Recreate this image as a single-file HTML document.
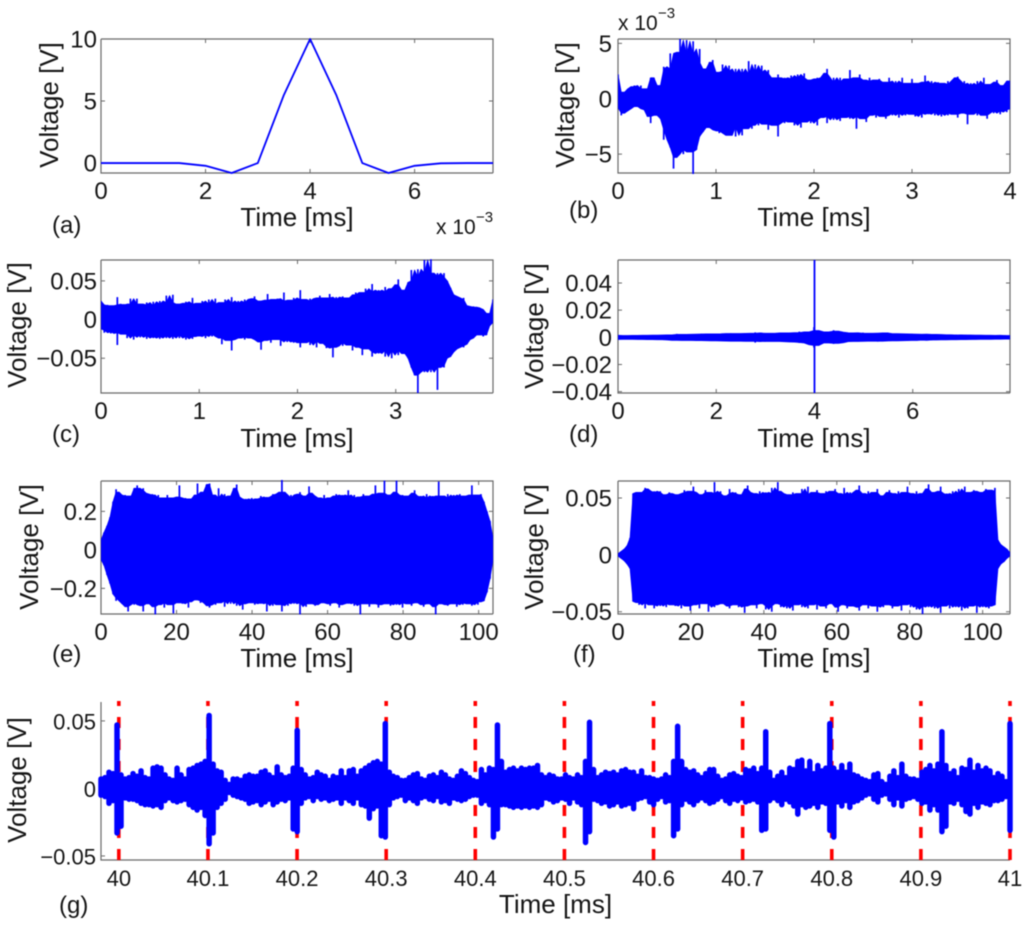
<!DOCTYPE html>
<html lang="en">
<head>
<meta charset="utf-8">
<title>Voltage signal panels</title>
<style>
html,body{margin:0;padding:0;background:#fff;}
#figure{display:block;width:1024px;height:931px;filter:blur(0.45px);font-family:"Liberation Sans",sans-serif;}
text{fill:#151515;}
</style>
</head>
<body>
<svg id="figure" xmlns="http://www.w3.org/2000/svg" width="1024" height="931" viewBox="0 0 1024 931"></svg>
<script>
// Panel (a): pulse, volts
const aTime = [0,0.5,1,1.5,2,2.5,3,3.5,4,4.5,5,5.5,6,6.5,7,7.5];
const aVolts = [0,0,0,0,-0.22,-0.8,0,5.5,10,5.5,0,-0.8,-0.22,-0.02,0,0];

// Panel (b): envelope in millivolts
const bUpper = [2.2,.6,.4,.9,1.1,1.2,.9,1.2,.9,.7,
1.9,1.9,1.2,1.1,2.9,2.7,4.1,2.6,4.2,5.4,
4.0,5.3,4.0,5.2,3.3,4.5,2.7,2.2,3.3,3.5,
2.4,2.2,3.1,2.5,3.0,2.0,2.7,2.2,2.7,2.0,
3.4,2.2,3.1,2.4,3.0,2.3,2.6,1.8,1.9,2.2,
1.6,1.9,1.8,2.1,1.6,2.2,1.9,2.3,1.7,1.6,
1.8,1.9,1.6,2.3,2.7,1.3,1.9,1.5,1.9,1.4,
1.8,2.6,1.5,1.9,2.2,1.7,1.6,1.9,1.4,1.7,
1.8,1.3,1.5,1.9,1.3,1.6,1.2,1.9,1.4,1.3,
1.8,1.4,1.2,1.5,2.1,1.3,1.6,1.2,1.5,1.4,
1.3,1.6,1.2,1.9,2.0,1.3,1.6,1.1,1.4,1.2,
1.6,1.2,1.9,1.3,1.1,1.5,1.7,1.0,1.2,1.6,1.6];
const bLower = [-.8,-1.5,-1.3,-1.1,-.9,-.7,-.6,-.9,-1.0,-1.6,
-2.2,-1.4,-1.5,-1.8,-3.7,-2.8,-4.4,-6.3,-5.3,-4.6,
-5.0,-4.6,-4.8,-6.9,-4.6,-3.4,-3.0,-2.6,-2.4,-2.8,
-2.9,-3.1,-2.4,-3.3,-3.3,-2.2,-3.4,-2.5,-3.3,-2.7,
-2.4,-2.7,-2.1,-2.4,-1.9,-2.3,-2.8,-1.9,-2.4,-3.4,
-2.0,-2.2,-1.7,-2.1,-2.4,-2.0,-2.6,-2.1,-1.8,-2.2,
-1.9,-2.4,-1.7,-1.6,-2.2,-1.6,-1.9,-1.5,-2.0,-1.7,
-1.5,-1.8,-1.6,-2.7,-1.4,-1.8,-2.1,-1.5,-1.4,-1.7,
-1.2,-1.6,-1.8,-1.3,-1.5,-1.2,-1.7,-1.3,-1.5,-1.2,
-1.4,-1.6,-1.2,-1.7,-1.3,-1.4,-1.1,-1.5,-1.2,-1.6,
-1.3,-1.5,-1.2,-1.4,-1.7,-1.3,-1.2,-2.3,-1.4,-1.1,
-1.5,-1.2,-1.5,-1.8,-1.1,-1.3,-1.1,-1.4,-1.0,-1.2,-.9];

// Panel (c): envelope in millivolts
const cUpper = [24,17,19,18,16,29,19,20,18,27,
20,27,20,19,22,17,23,18,24,20,
31,22,32,18,20,21,23,20,28,19,
21,24,19,26,20,27,17,22,26,18,
29,21,24,20,26,22,27,30,24,20,
25,33,21,26,27,24,35,23,25,28,
24,38,26,24,27,23,28,31,25,28,
33,26,29,24,30,28,24,32,35,30,
35,40,31,46,36,38,34,42,36,40,
45,52,36,38,48,64,50,65,55,77,
60,78,56,60,55,60,50,41,32,30,
26,28,18,14,17,16,15,13,8,6,26];
const cLower = [-12,-17,-14,-18,-16,-33,-17,-19,-24,-18,
-26,-20,-23,-19,-25,-21,-24,-22,-25,-20,
-24,-21,-25,-20,-24,-19,-26,-22,-25,-21,
-22,-20,-24,-19,-22,-18,-24,-32,-24,-27,
-40,-26,-24,-22,-26,-23,-24,-26,-29,-39,
-27,-26,-30,-26,-25,-34,-26,-29,-24,-30,
-28,-36,-30,-26,-33,-28,-36,-27,-31,-37,
-35,-49,-36,-30,-34,-28,-33,-40,-31,-36,
-46,-38,-35,-48,-42,-44,-36,-48,-40,-50,
-38,-46,-40,-44,-50,-62,-72,-95,-65,-68,
-60,-68,-62,-91,-60,-62,-50,-48,-42,-38,
-34,-36,-32,-26,-24,-20,-18,-22,-20,-8,-4];

// Panel (d): envelope and central spike in millivolts
const dUpper = [1.5,1.3,1.3,1.4,1.4,1.5,1.6,1.5,1.6,1.7,
1.8,1.8,2.5,2.1,2.0,2.3,2.2,2.6,2.4,2.5,
2.6,2.5,2.8,2.9,2.7,2.8,3.0,2.9,3.6,3.0,
3.2,3.0,2.8,3.3,3.2,3.1,3.4,4.2,3.3,4.0,
7.5,5.0,4.0,3.5,5.2,4.5,3.8,3.2,3.3,3.0,
3.4,3.0,2.8,3.1,3.2,3.5,2.7,2.6,2.8,2.4,
2.5,2.2,2.3,2.1,2.4,2.0,2.1,1.9,1.7,2.0,
1.7,1.8,1.6,1.7,1.5,1.6,1.4,1.5,1.3,1.5,1.3];
const dLower = [-1.6,-1.5,-1.5,-1.5,-1.6,-1.6,-1.7,-1.7,-1.8,-1.8,
-2.0,-2.2,-2.3,-2.1,-2.3,-2.2,-2.4,-2.5,-2.4,-2.6,
-2.6,-2.7,-3.0,-2.8,-2.9,-2.8,-3.0,-3.0,-3.9,-3.0,
-3.2,-3.0,-3.1,-3.0,-3.4,-3.3,-3.5,-4.2,-3.8,-5.5,
-7.5,-6.0,-4.2,-3.8,-4.8,-4.5,-4.0,-3.2,-3.1,-3.0,
-3.1,-2.9,-2.8,-3.2,-2.9,-2.7,-2.6,-2.5,-2.6,-2.3,
-2.4,-2.1,-2.3,-2.0,-2.2,-1.9,-2.0,-1.8,-1.9,-1.7,
-1.8,-1.6,-1.7,-1.5,-1.6,-1.5,-1.4,-1.5,-1.3,-1.4,-1.3];
const dSpikeTime = [4];
const dSpikeTop = [56.9];
const dSpikeBottom = [-41];

// Panel (e): envelope in millivolts
const eUpper = [50,90,125,170,250,315,300,280,285,280,
275,320,335,310,320,295,285,290,260,285,
270,265,285,270,265,275,335,265,270,258,
265,285,345,280,300,340,345,285,270,320,
265,290,275,280,320,340,275,250,265,260,
270,255,265,280,270,275,265,290,285,300,
365,300,270,285,270,290,300,275,280,330,
295,280,270,265,285,250,270,280,290,275,
285,280,310,270,285,260,275,290,280,265,
290,335,280,295,360,285,270,300,360,275,
285,280,270,295,310,275,280,270,290,265,
280,275,355,280,270,290,265,285,275,290,
280,270,285,335,275,285,290,250,200,150,60];
const eLower = [-50,-80,-130,-175,-230,-265,-250,-280,-295,-320,
-265,-285,-275,-290,-320,-270,-280,-295,-335,-285,
-270,-300,-275,-285,-330,-265,-275,-280,-265,-300,
-270,-260,-255,-275,-265,-290,-300,-270,-285,-275,
-265,-295,-260,-280,-255,-290,-270,-310,-280,-265,
-275,-285,-265,-280,-275,-320,-270,-290,-275,-285,
-320,-275,-290,-265,-280,-270,-335,-275,-295,-280,
-270,-290,-285,-275,-265,-280,-290,-275,-270,-300,
-285,-265,-280,-275,-290,-270,-335,-280,-265,-295,
-280,-275,-300,-285,-265,-280,-290,-270,-285,-275,
-300,-265,-280,-290,-275,-270,-285,-295,-280,-270,
-295,-335,-280,-265,-285,-290,-270,-280,-295,-275,
-285,-265,-280,-290,-270,-285,-270,-265,-220,-150,-50];

// Panel (f): envelope in millivolts
const fUpper = [1,3,5,8,15,54,55,55,52,59,
58,54,56,55,56,53,52,55,54,53,
50,54,57,55,56,60,55,52,53,57,
55,53,64,54,56,52,51,58,54,55,
53,51,58,61,55,54,53,56,53,55,
54,59,52,64,56,54,51,53,55,50,
54,58,53,60,52,55,57,53,54,56,
52,56,58,54,51,59,53,55,52,57,
61,54,52,56,53,55,58,52,51,55,
57,54,52,56,53,55,60,54,52,56,
53,54,58,62,52,55,56,60,51,54,
53,56,52,58,54,60,55,53,57,56,
54,55,58,57,56,59,13,9,7,5,2];
const fLower = [-1,-3,-5,-8,-12,-41,-42,-44,-41,-47,
-42,-44,-47,-41,-45,-43,-46,-42,-44,-45,
-43,-47,-42,-45,-49,-44,-43,-47,-41,-43,
-50,-42,-46,-44,-43,-39,-45,-47,-42,-44,
-46,-43,-51,-45,-41,-44,-47,-42,-43,-48,
-45,-50,-43,-41,-46,-44,-47,-42,-49,-44,
-43,-46,-41,-47,-44,-43,-48,-42,-45,-47,
-43,-41,-46,-50,-44,-42,-47,-45,-43,-46,
-49,-42,-44,-47,-41,-45,-50,-43,-46,-44,
-42,-47,-45,-43,-49,-44,-41,-46,-43,-48,
-45,-52,-43,-46,-44,-47,-42,-51,-45,-43,
-47,-41,-46,-44,-49,-43,-47,-45,-42,-51,
-44,-46,-43,-47,-45,-44,-12,-8,-6,-3,-1];

// Panel (g): envelope in millivolts, plus marker times in ms
const gUpper = [7,8,12,11,47,10,7,8,11,9,
13,8,7,15,16,15,10,7,6,15,
10,7,14,15,17,18,20,54,18,13,
12,6,3,7,7,6,9,10,9,9,
12,13,10,8,16,10,8,9,15,43,
14,10,7,8,12,10,9,6,9,8,
13,8,13,14,9,13,15,17,19,20,
18,48,12,9,8,6,6,8,10,11,
7,6,9,10,8,12,10,7,6,9,
13,11,8,6,5,14,10,15,14,47,
20,12,14,15,13,15,14,15,15,17,
10,8,10,9,7,7,10,8,7,10,
8,20,49,14,8,10,12,11,12,10,
13,14,12,12,9,13,8,8,7,6,
7,10,8,20,46,20,14,12,13,10,
8,11,14,14,9,6,7,10,11,9,
8,14,13,15,11,15,42,12,6,9,
12,8,15,14,20,21,13,20,11,17,
13,15,48,15,12,17,12,18,10,9,
7,6,5,10,11,5,3,9,13,8,
18,9,7,7,6,12,14,17,13,18,
42,17,11,13,8,15,14,21,12,17,
13,15,13,8,11,9,5,48];
const gLower = [-5,-6,-11,-9,-33,-28,-7,-8,-8,-9,
-11,-12,-12,-13,-12,-14,-9,-7,-9,-10,
-9,-8,-12,-14,-16,-14,-20,-41,-33,-14,
-11,-8,-3,-5,-6,-7,-8,-11,-10,-9,
-12,-10,-8,-12,-10,-8,-9,-7,-30,-32,
-11,-7,-6,-9,-6,-8,-7,-9,-8,-7,
-11,-7,-9,-11,-7,-12,-13,-22,-15,-13,
-35,-36,-12,-7,-6,-5,-9,-7,-9,-11,
-7,-6,-8,-9,-6,-10,-9,-11,-7,-8,
-9,-8,-6,-5,-5,-11,-9,-12,-36,-30,
-12,-12,-13,-14,-13,-14,-13,-14,-13,-14,
-12,-7,-8,-10,-9,-7,-8,-11,-7,-10,
-12,-40,-32,-8,-9,-11,-10,-13,-12,-10,
-13,-12,-11,-15,-8,-7,-6,-10,-12,-8,
-6,-10,-9,-35,-30,-12,-8,-10,-12,-9,
-7,-9,-11,-10,-8,-6,-9,-11,-8,-9,
-7,-10,-9,-8,-10,-31,-30,-9,-7,-9,
-12,-8,-10,-13,-19,-12,-14,-13,-11,-14,
-10,-11,-31,-36,-10,-13,-9,-14,-10,-9,
-7,-5,-4,-8,-10,-5,-4,-8,-12,-7,
-13,-8,-7,-6,-8,-11,-10,-16,-12,-16,
-32,-28,-10,-11,-8,-12,-17,-19,-11,-14,
-10,-11,-12,-9,-9,-8,-6,-31];
const gMarkers = [40,40.1,40.2,40.3,40.4,40.5,40.6,40.7,40.8,40.9,41];

// Tick values and labels
const aXTicks = [0,2,4,6];
const aXLabels = ['0','2','4','6'];
const aYTicks = [0,5,10];
const aYLabels = ['0','5','10'];
const bXTicks = [0,1,2,3,4];
const bXLabels = ['0','1','2','3','4'];
const bYTicks = [-5,0,5];
const bYLabels = ['\u22125','0','5'];
const cXTicks = [0,1,2,3];
const cXLabels = ['0','1','2','3'];
const cYTicks = [-50,0,50];
const cYLabels = ['\u22120.05','0','0.05'];
const dXTicks = [0,2,4,6];
const dXLabels = ['0','2','4','6'];
const dYTicks = [-40,-20,0,20,40];
const dYLabels = ['\u22120.04','\u22120.02','0','0.02','0.04'];
const eXTicks = [0,20,40,60,80,100];
const eXLabels = ['0','20','40','60','80','100'];
const eYTicks = [-200,0,200];
const eYLabels = ['\u22120.2','0','0.2'];
const fXTicks = [0,20,40,60,80,100];
const fXLabels = ['0','20','40','60','80','100'];
const fYTicks = [-50,0,50];
const fYLabels = ['\u22120.05','0','0.05'];
const gXTicks = [40,40.1,40.2,40.3,40.4,40.5,40.6,40.7,40.8,40.9,41];
const gXLabels = ['40','40.1','40.2','40.3','40.4','40.5','40.6','40.7','40.8','40.9','41'];
const gYTicks = [-50,0,50];
const gYLabels = ['\u22120.05','0','0.05'];

const NS = 'http://www.w3.org/2000/svg';
const root = document.getElementById('figure');
const AXIS = '#6a6a6a';
const BLUE = '#0000ff';

function make(parent, tag, attrs, name) {
  const el = document.createElementNS(NS, tag);
  for (const k in attrs) el.setAttribute(k, attrs[k]);
  
  
  parent.appendChild(el);
  return el;
}
function label(parent, x, y, str, size, anchor, name, rotate) {
  const attrs = {x: x, y: y, 'font-size': size, 'text-anchor': anchor};
  if (rotate) attrs.transform = 'rotate(-90 ' + x + ' ' + y + ')';
  const el = make(parent, 'text', attrs, name);
  el.textContent = str;
  return el;
}
function scale(d0, d1, r0, r1) {
  return function (v) { return r0 + (v - d0) * (r1 - r0) / (d1 - d0); };
}

function drawAxes(p, box) {
  const g = p.group, L = p.left, R = p.right, T = p.top, B = p.bottom;
  const axisAttrs = {stroke: AXIS, 'stroke-width': 1.2, fill: 'none'};
  make(g, 'path', Object.assign({d: 'M' + L + ' ' + T + 'V' + B + 'H' + R}, axisAttrs), 'axis-lines');
  if (box) make(g, 'path', Object.assign({d: 'M' + L + ' ' + T + 'H' + R + 'V' + B}, axisAttrs), 'axis-box-top-right');
  p.xTicks.forEach(function (t, i) {
    const x = p.x(t);
    const d = 'M' + x + ' ' + B + 'v-4' + (box ? 'M' + x + ' ' + T + 'v4' : '');
    make(g, 'path', {d: d, stroke: AXIS, 'stroke-width': 1, fill: 'none'}, 'x-tick');
    label(g, x, p.xTickY, p.xLabels[i], p.tickSize, 'middle', 'x-tick-label');
  });
  p.yTicks.forEach(function (t, i) {
    const y = p.y(t);
    const d = 'M' + L + ' ' + y + 'h4' + (box ? 'M' + R + ' ' + y + 'h-4' : '');
    make(g, 'path', {d: d, stroke: AXIS, 'stroke-width': 1, fill: 'none'}, 'y-tick');
    label(g, p.yTickX, y + 8.5, p.yLabels[i], p.tickSize, 'end', 'y-tick-label');
  });
  label(g, p.xTitleX, p.xTitleY, 'Time [ms]', 26, 'middle', 'x-axis-title');
  label(g, p.yTitleX, p.yTitleY, 'Voltage [V]', 26, 'middle', 'y-axis-title', true);
  label(g, p.tagX, p.tagY, p.tag, 24, 'start', 'panel-letter');
}

function clipFor(p) {
  const id = 'clip-' + p.id;
  const c = make(p.group, 'clipPath', {id: id}, 'plot-clip');
  make(c, 'rect', {x: p.left, y: p.top - 1, width: p.right - p.left, height: p.bottom - p.top + 2}, 'plot-clip-rect');
  return 'url(#' + id + ')';
}

// Solid body follows the median of neighbouring peaks; each sample then
// rises above it as a thin vertical spike.
function drawEnvelope(p, upper, lower) {
  const n = upper.length;
  const timeAt = function (i) { return p.xMin + i * (p.xMax - p.xMin) / (n - 1); };
  const middle = function (arr, i) {
    const trio = [arr[Math.max(i - 1, 0)], arr[i], arr[Math.min(i + 1, n - 1)]];
    trio.sort(function (a, b) { return a - b; });
    return trio[1];
  };
  const pts = [];
  let spikes = '';
  for (let i = 0; i < n; i++) {
    const x = p.x(timeAt(i)).toFixed(2);
    pts.push(x + ',' + p.y(middle(upper, i)).toFixed(2));
    spikes += 'M' + x + ' ' + p.y(upper[i]).toFixed(2) + 'V' + p.y(lower[i]).toFixed(2);
  }
  for (let i = n - 1; i >= 0; i--) {
    pts.push(p.x(timeAt(i)).toFixed(2) + ',' + p.y(middle(lower, i)).toFixed(2));
  }
  const clip = clipFor(p);
  make(p.group, 'polygon', {points: pts.join(' '), fill: BLUE, stroke: BLUE, 'stroke-width': 0.8,
    'stroke-linejoin': 'round', 'clip-path': clip}, 'signal-body');
  make(p.group, 'path', {d: spikes, fill: 'none', stroke: BLUE, 'stroke-width': 1.7, 'clip-path': clip}, 'signal-spikes');
}

function panel(cfg) {
  cfg.group = make(root, 'g', {}, 'panel-' + cfg.id);
  cfg.x = scale(cfg.xMin, cfg.xMax, cfg.left, cfg.right);
  cfg.y = scale(cfg.yMin, cfg.yMax, cfg.bottom, cfg.top);
  return cfg;
}

const topRow = {top: 39, bottom: 173, xTickY: 199, xTitleY: 226};
const midRow = {top: 260, bottom: 393, xTickY: 419, xTitleY: 447};
const lowRow = {top: 481, bottom: 614, xTickY: 640, xTitleY: 667};
const leftCol = {left: 101, right: 493, yTickX: 97, xTitleX: 297, tagX: 52};
const rightCol = {left: 618, right: 1010, yTickX: 612, xTitleX: 814, tagX: 569};

// (a)
const pa = panel(Object.assign({id: 'a', tag: '(a)', tagY: 233, tickSize: 24,
  xMin: 0, xMax: 7.5, yMin: -0.8, yMax: 10, xTicks: aXTicks, xLabels: aXLabels, yTicks: aYTicks, yLabels: aYLabels,
  yTitleX: 58, yTitleY: 105}, topRow, leftCol));
drawAxes(pa, true);
make(pa.group, 'polyline', {
  points: aTime.map(function (t, i) { return pa.x(t).toFixed(2) + ',' + pa.y(aVolts[i]).toFixed(2); }).join(' '),
  fill: 'none', stroke: BLUE, 'stroke-width': 1.8, 'stroke-linejoin': 'round'
}, 'pulse-trace');
label(pa.group, 436, 234, 'x 10', 21, 'start', 'x-axis-multiplier');
label(pa.group, 476, 222, '\u22123', 15, 'start', 'x-axis-multiplier-exponent');

// (b)
const pb = panel(Object.assign({id: 'b', tag: '(b)', tagY: 218, tickSize: 24,
  xMin: 0, xMax: 4, yMin: -6.7, yMax: 5.4, xTicks: bXTicks, xLabels: bXLabels, yTicks: bYTicks, yLabels: bYLabels,
  yTitleX: 574, yTitleY: 105}, topRow, rightCol));
drawAxes(pb, true);
drawEnvelope(pb, bUpper, bLower);
label(pb.group, 618, 30, 'x 10', 21, 'start', 'y-axis-multiplier');
label(pb.group, 658, 18, '\u22123', 15, 'start', 'y-axis-multiplier-exponent');

// (c)
const pc = panel(Object.assign({id: 'c', tag: '(c)', tagY: 442, tickSize: 24,
  xMin: 0, xMax: 3.99, yMin: -95, yMax: 77, xTicks: cXTicks, xLabels: cXLabels, yTicks: cYTicks, yLabels: cYLabels,
  yTitleX: 26, yTitleY: 325}, midRow, leftCol));
drawAxes(pc, true);
drawEnvelope(pc, cUpper, cLower);

// (d)
const pd = panel(Object.assign({id: 'd', tag: '(d)', tagY: 442, tickSize: 24,
  xMin: 0, xMax: 7.98, yMin: -41, yMax: 56.9, xTicks: dXTicks, xLabels: dXLabels, yTicks: dYTicks, yLabels: dYLabels,
  yTitleX: 543, yTitleY: 326}, midRow, rightCol));
drawAxes(pd, true);
drawEnvelope(pd, dUpper, dLower);
dSpikeTime.forEach(function (t, i) {
  make(pd.group, 'line', {x1: pd.x(t), x2: pd.x(t), y1: pd.y(dSpikeTop[i]), y2: pd.y(dSpikeBottom[i]),
    stroke: BLUE, 'stroke-width': 1.8}, 'central-spike');
});

// (e)
const pe = panel(Object.assign({id: 'e', tag: '(e)', tagY: 662, tickSize: 24,
  xMin: 0, xMax: 103.8, yMin: -333, yMax: 358, xTicks: eXTicks, xLabels: eXLabels, yTicks: eYTicks, yLabels: eYLabels,
  yTitleX: 38, yTitleY: 547}, lowRow, leftCol));
drawAxes(pe, true);
drawEnvelope(pe, eUpper, eLower);

// (f)
const pf = panel(Object.assign({id: 'f', tag: '(f)', tagY: 662, tickSize: 24,
  xMin: 0, xMax: 107.5, yMin: -52, yMax: 65, xTicks: fXTicks, xLabels: fXLabels, yTicks: fYTicks, yLabels: fYLabels,
  yTitleX: 543, yTitleY: 547}, lowRow, rightCol));
pf.tagX = 573;
drawAxes(pf, true);
drawEnvelope(pf, fUpper, fLower);

// (g)
const pg = panel({id: 'g', tag: '(g)', tagX: 59, tagY: 913, tickSize: 22,
  left: 101, right: 1010, top: 702, bottom: 860,
  xMin: 39.98, xMax: 41, yMin: -53, yMax: 64, xTicks: gXTicks, xLabels: gXLabels, yTicks: gYTicks, yLabels: gYLabels,
  xTickY: 886, xTitleX: 555.5, xTitleY: 913, yTickX: 96, yTitleX: 26, yTitleY: 780});
drawAxes(pg, false);
gMarkers.forEach(function (t) {
  make(pg.group, 'line', {x1: pg.x(t), x2: pg.x(t), y1: pg.bottom, y2: 701,
    stroke: '#ff0000', 'stroke-width': 3.6, 'stroke-dasharray': '11 11'}, 'period-marker');
});
(function () {
  const n = gUpper.length, w = 5.5;
  let d = '';
  for (let i = 0; i < n; i++) {
    const x = pg.x(pg.xMin + i * (pg.xMax - pg.xMin) / (n - 1)).toFixed(2);
    d += 'M' + x + ' ' + pg.y(gUpper[i]).toFixed(2) + 'V' + pg.y(gLower[i]).toFixed(2);
  }
  make(pg.group, 'path', {d: d, fill: 'none', stroke: BLUE, 'stroke-width': w, 'stroke-linecap': 'round'}, 'signal-trace');
})();
</script>
</body>
</html>
